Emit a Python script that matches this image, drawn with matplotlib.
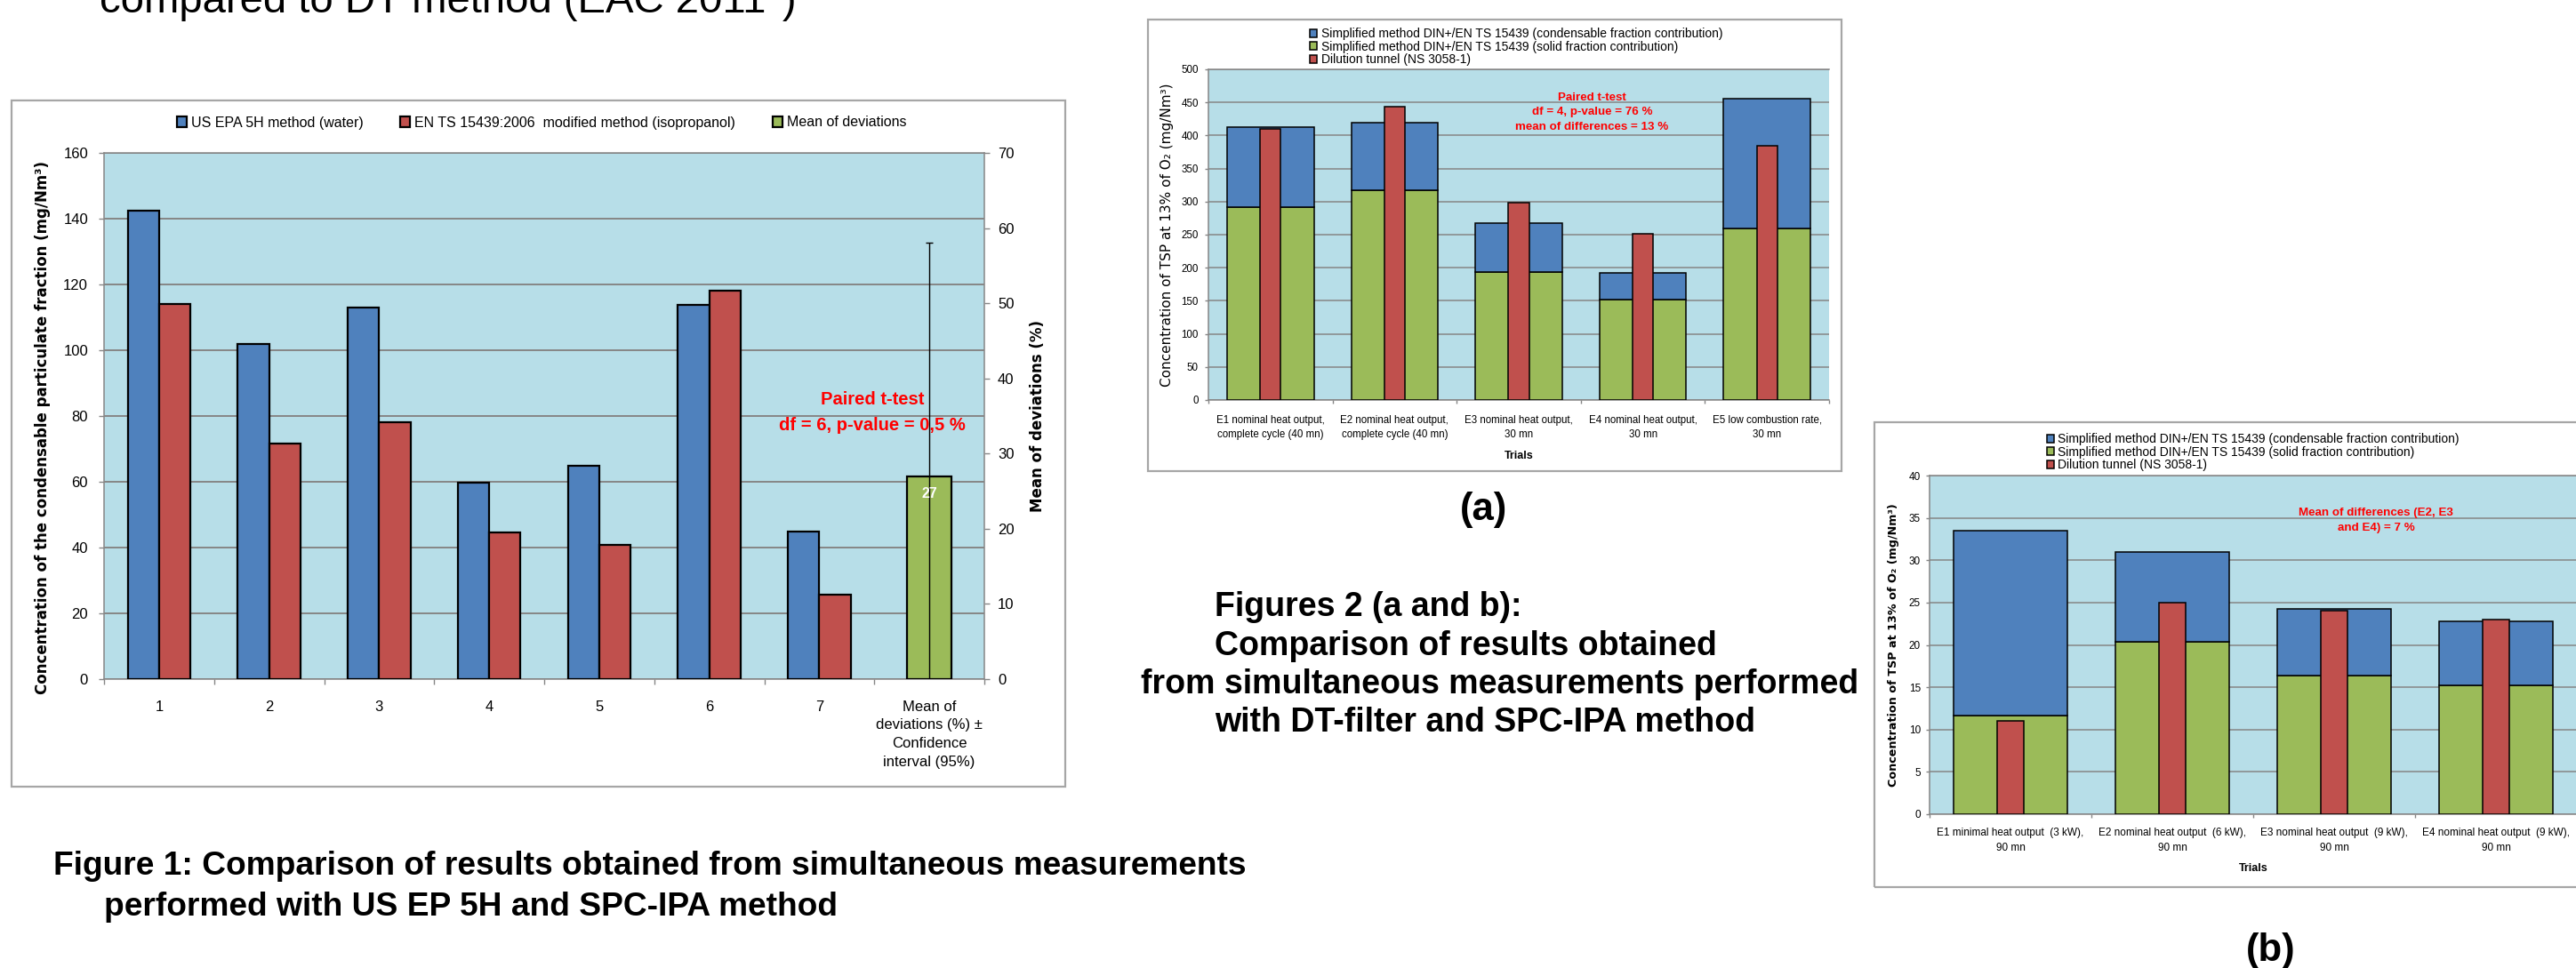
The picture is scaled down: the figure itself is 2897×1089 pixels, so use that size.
import matplotlib

matplotlib.use("Agg")
import matplotlib.pyplot as plt
from matplotlib.patches import Rectangle
import numpy as np

W, H = 2897, 1089
DPI = 100

BLUE = "#4F81BD"
RED = "#C0504D"
GREEN = "#9BBB59"
PLOT_BG = "#B7DEE8"
GRID = "#868686"
FRAME = "#A6A6A6"

ARIAL = ["Liberation Sans", "DejaVu Sans"]
VERDANA = ["DejaVu Sans"]

# Figure 1: US EPA 5H vs EN TS 15439 (condensable fraction)
fig1_trials = ["1", "2", "3", "4", "5", "6", "7",
               "Mean of\ndeviations (%) ±\nConfidence\ninterval (95%)"]
epa_water = [142.4, 101.9, 113.0, 59.8, 65.0, 113.8, 44.9]
en_isopropanol = [114.0, 71.7, 78.2, 44.6, 40.9, 118.2, 25.8]
mean_deviation = 27
mean_deviation_ci = 31

# Figure 2a: DT-filter vs SPC-IPA, first stove
trials_a = ["E1 nominal heat output,\ncomplete cycle (40 mn)",
            "E2 nominal heat output,\ncomplete cycle (40 mn)",
            "E3 nominal heat output,\n30 mn",
            "E4 nominal heat output,\n30 mn",
            "E5 low combustion rate,\n30 mn"]
solid_a = [292, 317, 194, 152, 259]
condensable_a = [121, 103, 74, 40, 197]
tunnel_a = [410, 443, 299, 251, 384]

# Figure 2b: DT-filter vs SPC-IPA, second stove
trials_b = ["E1 minimal heat output  (3 kW),\n90 mn",
            "E2 nominal heat output  (6 kW),\n90 mn",
            "E3 nominal heat output  (9 kW),\n90 mn",
            "E4 nominal heat output  (9 kW),\n90 mn"]
solid_b = [11.7, 20.4, 16.4, 15.2]
condensable_b = [21.8, 10.6, 7.9, 7.6]
tunnel_b = [11.0, 25.0, 24.0, 23.0]

LEG_COND = "Simplified method DIN+/EN TS 15439 (condensable fraction contribution)"
LEG_SOLID = "Simplified method DIN+/EN TS 15439 (solid fraction contribution)"
LEG_DT = "Dilution tunnel (NS 3058-1)"
TSP_LABEL = "Concentration of TSP at 13% of O₂ (mg/Nm³)"

plt.rcParams["font.family"] = ARIAL


def fx(x):
    return x / W


def fy(y):
    return 1 - y / H


def add_axes(fig, left, top, right, bottom):
    return fig.add_axes([fx(left), fy(bottom), (right - left) / W, (bottom - top) / H])


def add_frame(fig, left, top, right, bottom):
    fig.add_artist(Rectangle((fx(left), fy(bottom)), (right - left) / W, (bottom - top) / H,
                             transform=fig.transFigure, fill=False,
                             edgecolor=FRAME, linewidth=1.6))


def excel_axes(ax, labels, ymax, ystep, label_size, x_pad, y_pad, tick_len,
               grid_lw, linespacing):
    n = len(labels)
    ax.set_facecolor(PLOT_BG)
    ax.set_xlim(-0.5, n - 0.5)
    ax.set_ylim(0, ymax)
    ax.set_yticks(np.arange(0, ymax + ystep / 2, ystep))
    ax.set_xticks(np.arange(n + 1) - 0.5)
    ax.set_xticklabels([])
    ax.set_xticks(np.arange(n), minor=True)
    ax.set_xticklabels(labels, minor=True)
    for lbl in ax.get_xticklabels(minor=True):
        lbl.set_linespacing(linespacing)
    ax.tick_params(axis="x", which="major", length=tick_len, color=GRID, width=1)
    ax.tick_params(axis="x", which="minor", length=0, pad=x_pad, labelsize=label_size)
    ax.tick_params(axis="y", length=tick_len, color=GRID, width=1, pad=y_pad,
                   labelsize=label_size)
    ax.grid(True, axis="y", color=GRID, linewidth=grid_lw)
    ax.set_axisbelow(True)
    for side in ["left", "bottom", "top"]:
        ax.spines[side].set_color(GRID)
        ax.spines[side].set_linewidth(1.1)
    ax.spines["right"].set_visible(False)


fig = plt.figure(figsize=(W / DPI, H / DPI), dpi=DPI)

# text left over from the slide above the charts
fig.text(fx(112), fy(13.5), "compared to DT method (EAC 2011*)", family=ARIAL,
         fontsize=34, va="baseline", ha="left")

# ---------------- Figure 1 ----------------
add_frame(fig, 13, 113, 1198, 885)
ax1 = add_axes(fig, 117, 172, 1107, 764)
excel_axes(ax1, fig1_trials, 160, 20, 12, 17, 8.6, 4.3, 1.4, 1.48)

x1 = np.arange(len(epa_water))
b_epa = ax1.bar(x1, epa_water, width=-0.285, align="edge", color=BLUE,
                edgecolor="black", linewidth=1.6, zorder=3)
b_en = ax1.bar(x1, en_isopropanol, width=0.285, align="edge", color=RED,
               edgecolor="black", linewidth=1.6, zorder=3)
ax1.set_ylabel("Concentration of the condensable particulate fraction (mg/Nm³)",
               family=VERDANA, weight="bold", fontsize=12, va="center")
ax1.yaxis.set_label_coords((48 - 117) / 990, 0.478)

ax1r = ax1.twinx()
ax1r.set_ylim(0, 70)
ax1r.set_yticks(np.arange(0, 71, 10))
ax1r.tick_params(axis="y", length=4.3, color=GRID, width=1, pad=6.5, labelsize=12)
for side in ["left", "bottom", "top"]:
    ax1r.spines[side].set_visible(False)
ax1r.spines["right"].set_color(GRID)
ax1r.spines["right"].set_linewidth(1.1)
mean_x = len(fig1_trials) - 1
b_mean = ax1r.bar(mean_x, mean_deviation, width=0.40, color=GREEN,
                  edgecolor="black", linewidth=1.6, zorder=3)
ax1r.errorbar(mean_x, mean_deviation, yerr=mean_deviation_ci, fmt="none",
              ecolor="black", elinewidth=1, capsize=3, zorder=4)
ax1r.text(mean_x, mean_deviation - 2.3, f"{mean_deviation}", color="white",
          weight="bold", fontsize=11.5, ha="center", va="center", zorder=5)
ax1r.set_ylabel("Mean of deviations (%)", family=VERDANA, weight="bold",
                fontsize=12, rotation=90, va="center")
ax1r.yaxis.set_label_coords((1167 - 117) / 990, 0.5)

ax1.text(6.48, 81.1, "Paired t-test\ndf = 6, p-value = 0,5 %", color="red",
         weight="bold", fontsize=14.5, ha="center", va="center",
         linespacing=1.62, zorder=5)

fig.legend([b_epa, b_en, b_mean],
           ["US EPA 5H method (water)",
            "EN TS 15439:2006  modified method (isopropanol)",
            "Mean of deviations"],
           loc="center", bbox_to_anchor=(fx(609), fy(138)), ncol=3,
           frameon=False, fontsize=11.5, handlelength=0.7, handleheight=0.7,
           handletextpad=0.3, columnspacing=2.6, borderpad=0)

fig.text(fx(60), fy(975),
         "Figure 1: Comparison of results obtained from simultaneous measurements",
         family=ARIAL, weight="bold", fontsize=26.7, va="center")
fig.text(fx(117), fy(1020), "performed with US EP 5H and SPC-IPA method",
         family=ARIAL, weight="bold", fontsize=26.7, va="center")


def stacked_with_tunnel(ax, solid, condensable, tunnel, lw):
    x = np.arange(len(solid))
    g = ax.bar(x, solid, width=0.70, color=GREEN, edgecolor="black",
               linewidth=lw, zorder=3)
    b = ax.bar(x, condensable, bottom=solid, width=0.70, color=BLUE,
               edgecolor="black", linewidth=lw, zorder=3)
    r = ax.bar(x, tunnel, width=0.165, color=RED, edgecolor="black",
               linewidth=lw, zorder=4)
    return b, g, r


# ---------------- Figure 2a ----------------
add_frame(fig, 1291, 22, 2071, 530)
ax2a = add_axes(fig, 1359, 78, 2057, 450)
excel_axes(ax2a, trials_a, 500, 50, 8.3, 12, 5, 3, 1.1, 1.47)
bars_a = stacked_with_tunnel(ax2a, solid_a, condensable_a, tunnel_a, 1.1)
ax2a.set_xlabel("Trials", weight="bold", fontsize=9, labelpad=9)
ax2a.set_ylabel(TSP_LABEL, family=VERDANA, fontsize=11, va="center")
ax2a.yaxis.set_label_coords((1312 - 1359) / 698, 0.5)
ax2a.text(2.59, 435, "Paired t-test\ndf = 4, p-value = 76 %\nmean of differences = 13 %",
          color="red", weight="bold", fontsize=9.6, ha="center", va="center",
          linespacing=1.52, zorder=5)
ax2a.legend(bars_a, [LEG_COND, LEG_SOLID, LEG_DT], loc="upper left",
            bbox_to_anchor=(fx(1473), fy(31)), bbox_transform=fig.transFigure,
            frameon=False, fontsize=10, handlelength=0.6, handleheight=0.6,
            handletextpad=0.3, labelspacing=0.05, borderpad=0, borderaxespad=0)

fig.text(fx(1668), fy(573), "(a)", family=ARIAL, weight="bold", fontsize=31.5,
         ha="center", va="center")
for x0, y0, line in [(1366, 683, "Figures 2 (a and b):"),
                     (1366, 727, "Comparison of results obtained"),
                     (1283, 770, "from simultaneous measurements performed"),
                     (1366, 813, "with DT-filter and SPC-IPA method")]:
    fig.text(fx(x0), fy(y0), line, family=ARIAL, weight="bold", fontsize=27,
             va="center")

# ---------------- Figure 2b ----------------
add_frame(fig, 2108, 475, 2910, 998)
ax2b = add_axes(fig, 2170, 535, 2898, 916)
excel_axes(ax2b, trials_b, 40, 5, 8.5, 10.5, 4.3, 3, 1.1, 1.62)
bars_b = stacked_with_tunnel(ax2b, solid_b, condensable_b, tunnel_b, 1.1)
ax2b.set_xlabel("Trials", weight="bold", fontsize=9, labelpad=8)
ax2b.set_ylabel(TSP_LABEL, family=VERDANA, weight="bold", fontsize=9.2, va="center")
ax2b.yaxis.set_label_coords((2129 - 2170) / 728, 0.5)
ax2b.text(2.26, 34.7, "Mean of differences (E2, E3\nand E4) = 7 %",
          color="red", weight="bold", fontsize=9.6, ha="center", va="center",
          linespacing=1.63, zorder=5)
ax2b.legend(bars_b, [LEG_COND, LEG_SOLID, LEG_DT], loc="upper left",
            bbox_to_anchor=(fx(2302), fy(487)), bbox_transform=fig.transFigure,
            frameon=False, fontsize=10, handlelength=0.6, handleheight=0.6,
            handletextpad=0.3, labelspacing=0.05, borderpad=0, borderaxespad=0)

fig.text(fx(2554), fy(1070), "(b)", family=ARIAL, weight="bold", fontsize=31.5,
         ha="center", va="center")

fig.savefig("out.png", dpi=DPI)
plt.close(fig)
